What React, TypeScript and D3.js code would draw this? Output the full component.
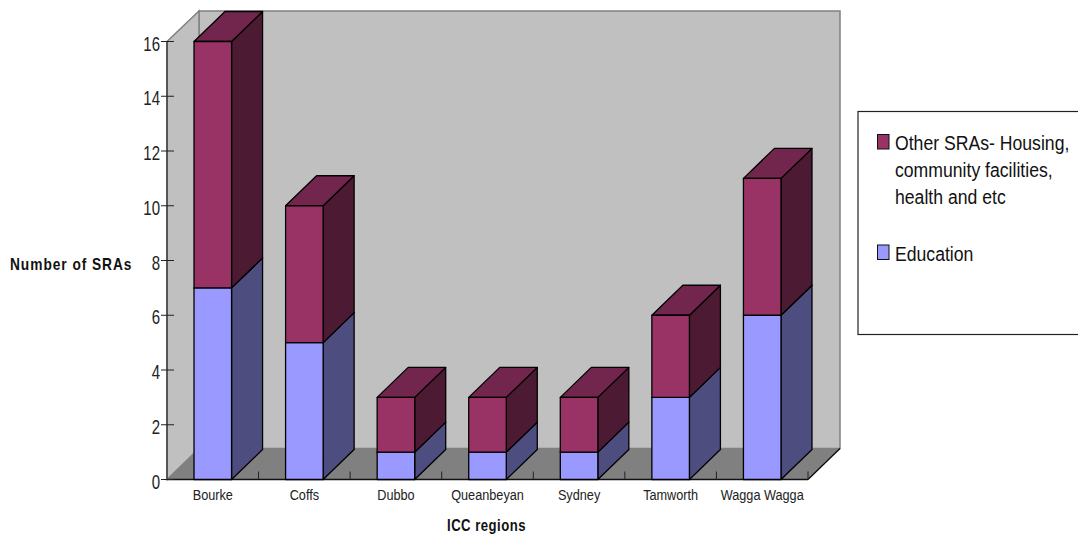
import { useEffect, useRef } from "react";
import * as d3 from "d3";

const regions = ["Bourke", "Coffs", "Dubbo", "Queanbeyan", "Sydney", "Tamworth", "Wagga Wagga"];
const education = [7, 5, 1, 1, 1, 3, 6];
const otherSras = [9, 5, 2, 2, 2, 3, 5];
const yTicks = [0, 2, 4, 6, 8, 10, 12, 14, 16];
const legendOther = ["Other SRAs- Housing,", "community facilities,", "health and etc"];
const legendEducation = ["Education"];

const FONT = "'Liberation Sans', Arial, sans-serif";

export default function App() {
  const ref = useRef<SVGSVGElement>(null);

  useEffect(() => {
    if (!ref.current) return;
    const svg = d3.select(ref.current);
    svg.selectAll("*").remove();

    const left = 167;
    const right = 808;
    const bottom = 479.5;
    const top16 = 41.5;
    const dx = 32;
    const dy = 31;
    const barDx = 31;
    const barDy = 30;

    const x = d3.scaleBand<string>().domain(regions).range([left, right]).paddingInner(0.59).paddingOuter(0.295);
    const y = d3.scaleLinear().domain([0, 16]).range([bottom, top16]);
    const line = d3.line();

    // walls and floor
    svg.append("rect")
      .attr("x", left + dx).attr("y", 11)
      .attr("width", right - left).attr("height", bottom - dy - 11)
      .attr("fill", "#c0c0c0").attr("stroke", "#808080").attr("stroke-width", 1.5);
    svg.append("path")
      .attr("d", line([[left, top16], [left + dx, 11], [left + dx, bottom - dy], [left, bottom]]) + "Z")
      .attr("fill", "#c0c0c0").attr("stroke", "#808080").attr("stroke-width", 1.5);
    svg.append("path")
      .attr("d", line([[left, bottom], [left + dx, bottom - dy], [right + dx, bottom - dy], [right, bottom]]) + "Z")
      .attr("fill", "#808080");
    svg.append("path")
      .attr("d", line([[right, bottom], [right + dx, bottom - dy]])!)
      .attr("stroke", "#000").attr("stroke-width", 1.2).attr("fill", "none");

    // axes, the reference text is squeezed horizontally so labels get a scale
    const xAxis = svg.append("g")
      .attr("transform", `translate(0,${bottom})`)
      .call(d3.axisBottom(x).tickSize(0).offset(0));
    xAxis.select(".domain").attr("stroke", "#111").attr("stroke-width", 1.4);
    xAxis.selectAll<SVGTextElement, string>("text")
      .attr("y", 20.5).attr("dy", 0)
      .attr("transform", "scale(0.82,1)")
      .style("font-family", FONT).style("font-size", "15.5px").style("fill", "#222");

    svg.append("g").selectAll("line")
      .data(d3.range(1, regions.length + 1))
      .join("line")
      .attr("x1", (i) => left + (i * (right - left)) / regions.length)
      .attr("x2", (i) => left + (i * (right - left)) / regions.length)
      .attr("y1", bottom).attr("y2", bottom - 8)
      .attr("stroke", "#222").attr("stroke-width", 1);

    const yAxis = svg.append("g")
      .attr("transform", `translate(${left},0)`)
      .call(d3.axisLeft(y).tickValues(yTicks).tickSize(6).offset(0));
    yAxis.select(".domain").attr("stroke", "#404040").attr("stroke-width", 1.5).attr("d", `M0,${top16}V${bottom}`);
    yAxis.selectAll("line").attr("x1", -6).attr("x2", 7).attr("stroke", "#222").attr("stroke-width", 1);
    yAxis.selectAll<SVGTextElement, number>("text")
      .attr("x", 0).attr("dy", 0).attr("y", 9)
      .attr("transform", "translate(-7,0) scale(0.75,1)")
      .style("font-family", FONT).style("font-size", "20px").style("fill", "#222");

    // stacked 3D bars, side then top then front for every segment
    const drawBox = (i: number, from: number, to: number, front: string, side: string, topFill: string) => {
      const x0 = x(regions[i])!;
      const x1 = x0 + x.bandwidth();
      const g = svg.append("g").attr("stroke", "#000").attr("stroke-width", 1.3).attr("stroke-linejoin", "round");
      g.append("path")
        .attr("d", line([[x1, y(from)], [x1 + barDx, y(from) - barDy], [x1 + barDx, y(to) - barDy], [x1, y(to)]]) + "Z")
        .attr("fill", side);
      g.append("path")
        .attr("d", line([[x0, y(to)], [x0 + barDx, y(to) - barDy], [x1 + barDx, y(to) - barDy], [x1, y(to)]]) + "Z")
        .attr("fill", topFill);
      g.append("rect")
        .attr("x", x0).attr("y", y(to))
        .attr("width", x.bandwidth()).attr("height", y(from) - y(to))
        .attr("fill", front);
    };

    regions.forEach((_, i) => {
      drawBox(i, 0, education[i], "#9999ff", "#4d4d80", "#73739f");
      drawBox(i, education[i], education[i] + otherSras[i], "#993366", "#4d1a33", "#73264d");
    });

    // axis titles
    svg.append("text")
      .attr("transform", "translate(10,270) scale(0.86,1)")
      .style("font-family", FONT).style("font-size", "16px").style("font-weight", "bold").style("letter-spacing", "1.1px").style("fill", "#111")
      .text("Number of SRAs");
    svg.append("text")
      .attr("transform", "translate(486.5,531) scale(0.82,1)").attr("text-anchor", "middle")
      .style("font-family", FONT).style("font-size", "16px").style("font-weight", "bold").style("letter-spacing", "0.6px").style("fill", "#111")
      .text("ICC regions");

    // legend
    svg.append("rect")
      .attr("x", 858).attr("y", 111.5).attr("width", 240).attr("height", 223)
      .attr("fill", "#fff").attr("stroke", "#222").attr("stroke-width", 1.2);

    const legendItems = [
      { lines: legendOther, fill: "#993366", baseline: 150 },
      { lines: legendEducation, fill: "#9999ff", baseline: 260.5 },
    ];
    legendItems.forEach((item) => {
      svg.append("rect")
        .attr("x", 877.5).attr("y", item.baseline - 15.5).attr("width", 11.5).attr("height", 14.5)
        .attr("fill", item.fill).attr("stroke", "#111").attr("stroke-width", 1);
      svg.append("g").selectAll("text")
        .data(item.lines)
        .join("text")
        .attr("transform", (_, i) => `translate(895,${item.baseline + i * 26.8}) scale(0.84,1)`)
        .style("font-family", FONT).style("font-size", "21px").style("fill", "#111")
        .text((d) => d);
    });
  }, []);

  return <svg ref={ref} width={1078} height={536} style={{ position: "absolute", left: 0, top: 0 }} />;
}
